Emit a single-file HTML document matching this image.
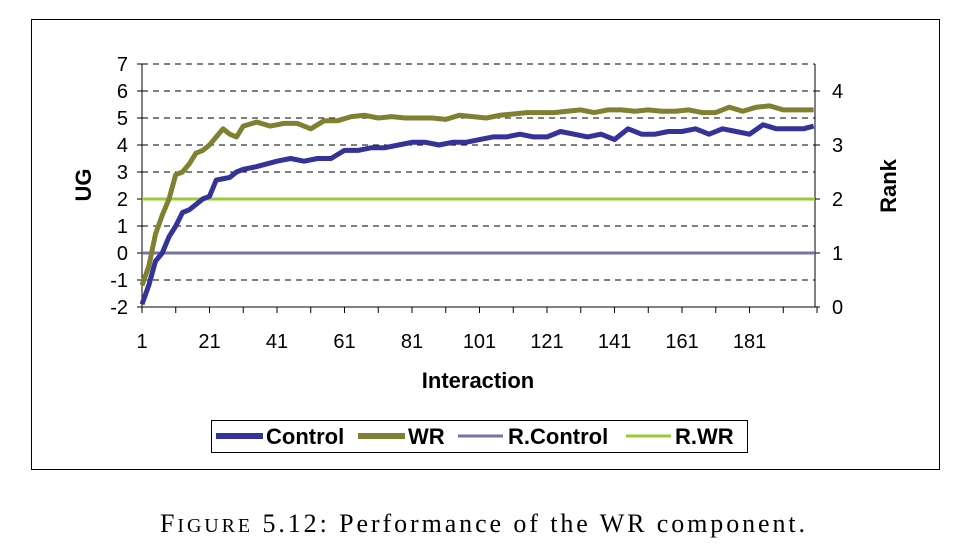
<!DOCTYPE html>
<html><head><meta charset="utf-8"><style>
body{margin:0;background:#fff;width:976px;height:548px;overflow:hidden}
svg text{font-family:"Liberation Sans",Arial,sans-serif}
</style></head><body>
<svg width="976" height="548" xmlns="http://www.w3.org/2000/svg">
<rect x="31.5" y="19.5" width="908" height="450" fill="none" stroke="#000" stroke-width="1"/>
<g id="grid"></g><g id="axes"></g><g id="series"></g>
<text x="84" y="192" font-size="22" font-weight="bold" text-anchor="middle" transform="rotate(-90 84 185)">UG</text>
<text x="0" y="0" font-size="22" font-weight="bold" text-anchor="middle" transform="translate(896 186) rotate(-90)">Rank</text>
<text x="478" y="388" font-size="22" font-weight="bold" text-anchor="middle">Interaction</text>
<g>
<rect x="211.5" y="420.5" width="536" height="32" fill="#fff" stroke="#000"/>
<line x1="216" y1="436" x2="263" y2="436" stroke="#333399" stroke-width="6"/>
<text x="266" y="444" font-size="22" font-weight="bold">Control</text>
<line x1="358" y1="436" x2="405" y2="436" stroke="#808033" stroke-width="6"/>
<text x="408" y="444" font-size="22" font-weight="bold">WR</text>
<line x1="458" y1="436" x2="503" y2="436" stroke="#7373a8" stroke-width="3"/>
<text x="508" y="444" font-size="22" font-weight="bold">R.Control</text>
<line x1="626" y1="436" x2="671" y2="436" stroke="#99cc33" stroke-width="3"/>
<text x="675" y="444" font-size="22" font-weight="bold">R.WR</text>
</g>
<text x="160" y="532" font-size="26" textLength="645" lengthAdjust="spacing" style="font-family:'Liberation Serif',serif">F<tspan font-size="20">IGURE</tspan> 5.12: Performance of the WR component.</text>
</svg>
<script>
const ctrlX=[1,3,5,7,9,11,13,15,17,19,21,23,25,27,29,31,35,41,45,49,53,57,61,65,69,73,77,81,85,89,93,97,101,105,109,113,117,121,125,129,133,137,141,145,149,153,157,161,165,169,173,177,181,185,189,193,197,200];
const ctrlY=[-1.9,-1.2,-0.3,0,0.6,1.0,1.5,1.6,1.8,2.0,2.1,2.7,2.75,2.8,3.0,3.1,3.2,3.4,3.5,3.4,3.5,3.5,3.8,3.8,3.9,3.9,4.0,4.1,4.1,4.0,4.1,4.1,4.2,4.3,4.3,4.4,4.3,4.3,4.5,4.4,4.3,4.4,4.2,4.6,4.4,4.4,4.5,4.5,4.6,4.4,4.6,4.5,4.4,4.75,4.6,4.6,4.6,4.7];
const wrX=[1,3,5,7,9,11,13,15,17,19,21,23,25,27,29,31,35,39,43,47,51,55,59,63,67,71,75,79,83,87,91,95,99,103,107,111,115,119,123,127,131,135,139,143,147,151,155,159,163,167,171,175,179,183,187,191,195,200];
const wrY=[-1.2,-0.5,0.7,1.4,2.0,2.9,3.0,3.3,3.7,3.8,4.0,4.3,4.6,4.4,4.3,4.7,4.85,4.7,4.8,4.8,4.6,4.9,4.9,5.05,5.1,5.0,5.05,5.0,5.0,5.0,4.95,5.1,5.05,5.0,5.1,5.15,5.2,5.2,5.2,5.25,5.3,5.2,5.3,5.3,5.25,5.3,5.25,5.25,5.3,5.2,5.2,5.4,5.25,5.4,5.45,5.3,5.3,5.3];
const rControl=[1];
const rWR=[2];
const yTicks=[-2,-1,0,1,2,3,4,5,6,7];
const y2Ticks=[0,1,2,3,4];
const xTicks=[1,21,41,61,81,101,121,141,161,181];
const L=142,R=815,T=64,B=307;
const xs=v=>L+(v-1)*(R-L)/199.4;
const ys=v=>B-(v+2)*(B-T)/9;
const y2=v=>B-v*(B-T)/4.5;
const NS='http://www.w3.org/2000/svg';
function mk(p,t,a){const e=document.createElementNS(NS,t);for(const k in a)e.setAttribute(k,a[k]);p.appendChild(e);return e;}
const g=document.getElementById('grid'),ax=document.getElementById('axes'),s=document.getElementById('series');
yTicks.forEach(v=>{const y=ys(v);
 if(v>-2){const l=mk(g,'line',{x1:L,x2:R,y1:y,y2:y,stroke:'#000','stroke-dasharray':'6,5','stroke-width':1});
 
 }
 mk(ax,'line',{x1:L-5,x2:L,y1:y,y2:y,stroke:'#000'});
 const t=mk(ax,'text',{x:L-14,y:y+7,'font-size':20,'text-anchor':'end'});t.textContent=v;
 
 });
y2Ticks.forEach(v=>{const y=y2(v);
 mk(ax,'line',{x1:R,x2:R+5,y1:y,y2:y,stroke:'#000'});
 const t=mk(ax,'text',{x:R+17,y:y+7,'font-size':20});t.textContent=v;
 
 });
for(let v=1;v<=201;v+=10){const x=xs(v);mk(ax,'line',{x1:x,x2:x,y1:B,y2:B+6,stroke:'#000'});}
xTicks.forEach(v=>{const t=mk(ax,'text',{x:xs(v),y:B+41,'font-size':20,'text-anchor':'middle'});t.textContent=v;
 
 });
mk(ax,'line',{x1:L,x2:L,y1:T,y2:B,stroke:'#000'});
mk(ax,'line',{x1:R,x2:R,y1:T,y2:B,stroke:'#000'});
mk(ax,'line',{x1:L,x2:R,y1:B,y2:B,stroke:'#000'});
const rc=mk(s,'line',{x1:L,x2:R,y1:y2(rControl[0]),y2:y2(rControl[0]),stroke:'#7373a8','stroke-width':3});


const rw=mk(s,'line',{x1:L,x2:R,y1:y2(rWR[0]),y2:y2(rWR[0]),stroke:'#99cc33','stroke-width':3});


const p1=mk(s,'polyline',{points:wrX.map((x,i)=>xs(x)+','+ys(wrY[i])).join(' '),fill:'none',stroke:'#808033','stroke-width':5,'stroke-linejoin':'round'});


const p2=mk(s,'polyline',{points:ctrlX.map((x,i)=>xs(x)+','+ys(ctrlY[i])).join(' '),fill:'none',stroke:'#333399','stroke-width':5,'stroke-linejoin':'round'});


</script>
</body></html>
